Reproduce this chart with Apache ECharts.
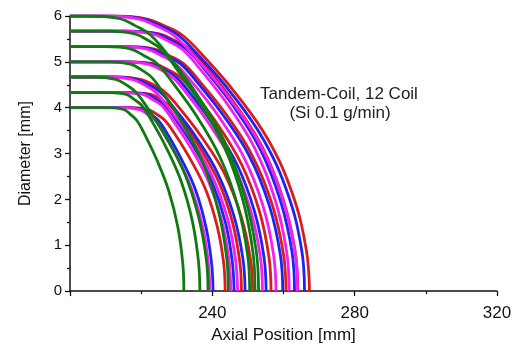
<!DOCTYPE html>
<html>
<head>
<meta charset="utf-8">
<script src="https://cdn.jsdelivr.net/npm/echarts@6/dist/echarts.min.js"></script>
<style>html,body{margin:0;padding:0;background:#fff}#c{width:515px;height:349px}</style>
</head>
<body>
<div id="c"></div>
<script>
// ---- data ----
const xTickLabels = [240, 280, 320];
const yTickLabels = [0, 1, 2, 3, 4, 5, 6];
const entryX = 200;                                   // curves start at the left edge
const startDiameters = [4.00, 4.33, 4.67, 5.00, 5.33, 5.67, 6.00];
// diameter at each sampled point of a group (first = start diameter, still flat)
const levelY = [
  [4.00, 3.96, 3.86, 3.72, 3.40, 2.88, 2.20, 1.40, 0.60, 0],
  [4.33, 4.29, 4.18, 4.03, 3.68, 3.12, 2.38, 1.52, 0.65, 0],
  [4.67, 4.62, 4.51, 4.34, 3.97, 3.36, 2.57, 1.63, 0.70, 0],
  [5.00, 4.95, 4.83, 4.65, 4.25, 3.60, 2.75, 1.75, 0.75, 0],
  [5.33, 5.28, 5.14, 4.96, 4.53, 3.84, 2.93, 1.87, 0.80, 0],
  [5.67, 5.61, 5.47, 5.27, 4.82, 4.08, 3.12, 1.98, 0.85, 0],
  [6.00, 5.94, 5.79, 5.58, 5.10, 4.32, 3.30, 2.10, 0.90, 0]
];
// axial position [mm] of each sampled point (first = where the curve leaves its start diameter)
const greenX = [
  [211, 215.1, 216.9, 218.8, 221.1, 224.3, 227.7, 230.3, 231.7, 232.0],
  [211, 215.8, 218.0, 220.4, 223.2, 227.1, 231.3, 234.4, 236.1, 236.5],
  [207, 212.8, 215.6, 218.5, 222.0, 227.0, 232.2, 236.1, 238.3, 238.8],
  [211, 217.0, 220.0, 223.1, 226.8, 232.1, 237.6, 241.7, 244.0, 244.5],
  [210, 217.1, 220.7, 224.5, 229.0, 235.4, 242.1, 247.1, 249.9, 250.5],
  [211, 218.2, 221.9, 225.7, 230.2, 236.7, 243.5, 248.6, 251.4, 252.0],
  [206, 214.1, 218.3, 222.7, 228.0, 235.4, 243.2, 249.0, 252.3, 253.0]
];
const magentaX = [
  [215, 219.6, 221.7, 224.0, 226.6, 230.4, 234.3, 237.3, 238.9, 239.3],
  [215, 220.5, 223.2, 226.0, 229.3, 234.0, 239.0, 242.7, 244.7, 245.2],
  [211, 217.4, 220.6, 224.0, 228.0, 233.7, 239.6, 244.1, 246.5, 247.1],
  [215, 221.9, 225.4, 229.0, 233.4, 239.5, 246.0, 250.8, 253.5, 254.1],
  [214, 221.6, 225.6, 229.6, 234.6, 241.5, 248.8, 254.2, 257.2, 257.9],
  [215, 223.1, 227.2, 231.6, 236.8, 244.2, 251.9, 257.7, 260.9, 261.6],
  [210, 219.2, 224.1, 229.1, 235.2, 243.7, 252.7, 259.4, 263.2, 264.0]
];
const blueX = [
  [216, 220.6, 222.7, 224.9, 227.6, 231.3, 235.3, 238.2, 239.8, 240.2],
  [216, 221.5, 224.2, 226.9, 230.3, 235.0, 239.9, 243.6, 245.6, 246.1],
  [212, 218.6, 221.9, 225.4, 229.5, 235.4, 241.5, 246.1, 248.6, 249.2],
  [216, 222.9, 226.4, 230.0, 234.4, 240.5, 247.0, 251.8, 254.5, 255.1],
  [215, 222.8, 226.8, 231.0, 236.0, 243.0, 250.5, 256.0, 259.1, 259.8],
  [216, 224.2, 228.4, 232.8, 238.0, 245.5, 253.3, 259.1, 262.4, 263.1],
  [211, 220.4, 225.3, 230.4, 236.6, 245.3, 254.4, 261.3, 265.1, 265.9]
];
const redX = [
  [217, 222.0, 224.3, 226.7, 229.7, 233.8, 238.2, 241.4, 243.2, 243.6],
  [217, 222.7, 225.4, 228.3, 231.8, 236.6, 241.8, 245.6, 247.7, 248.2],
  [213, 219.8, 223.2, 226.7, 231.0, 237.0, 243.4, 248.1, 250.7, 251.3],
  [217, 224.0, 227.5, 231.2, 235.6, 241.8, 248.3, 253.2, 255.9, 256.5],
  [216, 223.8, 227.8, 231.9, 236.9, 244.0, 251.4, 256.9, 260.0, 260.7],
  [217, 225.1, 229.3, 233.7, 239.0, 246.4, 254.2, 260.0, 263.3, 264.0],
  [212, 221.4, 226.4, 231.6, 237.8, 246.5, 255.7, 262.6, 266.4, 267.3]
];

// ---- build chart ----
const colorSets = [
  {name: 'red', color: '#d91c1c', xs: redX},
  {name: 'blue', color: '#1f22f5', xs: blueX},
  {name: 'magenta', color: '#f51ff0', xs: magentaX},
  {name: 'green', color: '#107a12', xs: greenX}
];
const series = [];
colorSets.forEach(cs => {
  startDiameters.forEach((d0, g) => {
    const data = [[entryX, d0]];
    cs.xs[g].forEach((x, i) => data.push([x, levelY[g][i]]));
    series.push({
      type: 'line', name: cs.name + '-' + d0, data: data,
      smooth: 0.4, showSymbol: false, symbol: 'none', silent: true,
      lineStyle: {color: cs.color, width: 2.8}, z: 2
    });
  });
});

const font = 'Liberation Sans, Arial, Helvetica, sans-serif';
const chart = echarts.init(document.getElementById('c'), null, {renderer: 'canvas'});
chart.setOption({
  animation: false,
  backgroundColor: '#fff',
  grid: {left: 70, right: 18, top: 16, bottom: 50.5, containLabel: false},
  xAxis: {
    type: 'value', min: 200, max: 320, interval: 40,
    name: 'Axial Position [mm]', nameLocation: 'middle', nameGap: 22,
    nameTextStyle: {fontFamily: font, fontSize: 17, color: '#111'},
    axisLine: {lineStyle: {color: '#111', width: 1.5}},
    axisTick: {show: true, inside: false, length: 5, lineStyle: {color: '#111', width: 1.3}},
    minorTick: {show: true, splitNumber: 2, length: 3, lineStyle: {color: '#111', width: 1.2}},
    splitLine: {show: false},
    axisLabel: {
      margin: 14, fontFamily: font, fontSize: 17, color: '#111',
      formatter: v => (xTickLabels.indexOf(v) >= 0 ? String(v) : '')
    }
  },
  yAxis: {
    type: 'value', min: 0, max: 6, interval: 1,
    name: 'Diameter [mm]', nameLocation: 'middle', nameGap: 36, nameRotate: 90,
    nameTextStyle: {fontFamily: font, fontSize: 16, color: '#111'},
    axisLine: {show: true, lineStyle: {color: '#111', width: 1.5}},
    axisTick: {show: true, inside: false, length: 5, lineStyle: {color: '#111', width: 1.3}},
    minorTick: {show: true, splitNumber: 2, length: 3, lineStyle: {color: '#111', width: 1.2}},
    splitLine: {show: false},
    axisLabel: {
      margin: 8, fontFamily: font, fontSize: 15, color: '#111',
      formatter: v => (yTickLabels.indexOf(v) >= 0 ? String(v) : '')
    }
  },
  graphic: [
    {type: 'text', x: 339, y: 94, style: {text: 'Tandem-Coil, 12 Coil', font: '17px ' + font, fill: '#222', align: 'center', verticalAlign: 'middle'}},
    {type: 'text', x: 340, y: 113, style: {text: '(Si 0.1 g/min)', font: '17px ' + font, fill: '#222', align: 'center', verticalAlign: 'middle'}}
  ],
  series: series
});
</script>
</body>
</html>
